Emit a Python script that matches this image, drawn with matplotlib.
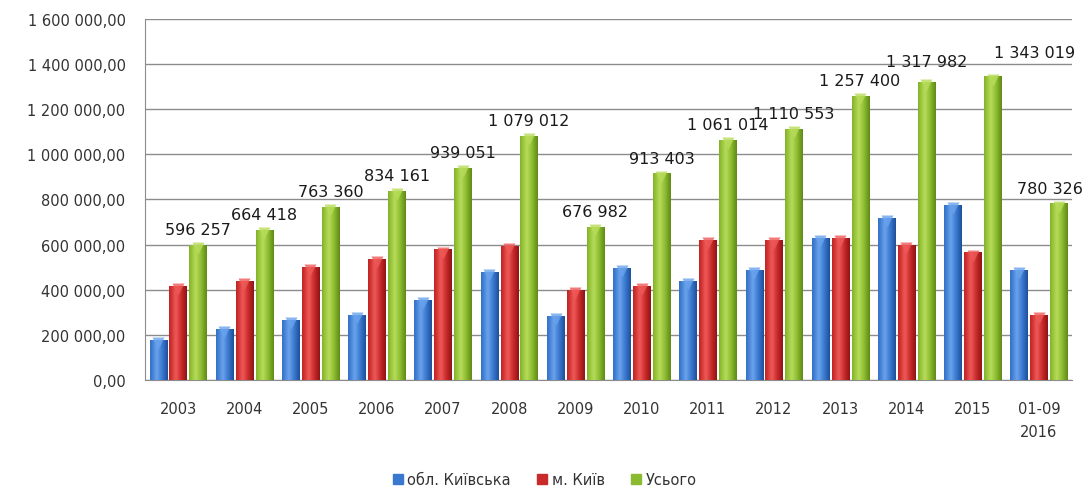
import numpy as np
import matplotlib
matplotlib.use("Agg")
import matplotlib.pyplot as plt
from matplotlib.colors import LinearSegmentedColormap
from matplotlib.ticker import FuncFormatter

plt.rcParams["font.family"] = ["DejaVu Sans"]

# дані з діаграми
years = ["2003", "2004", "2005", "2006", "2007", "2008", "2009",
         "2010", "2011", "2012", "2013", "2014", "2015", "01-09\n2016"]
oblast = [174000, 226000, 263000, 288000, 351000, 477000, 282000,
          495000, 436000, 484000, 628000, 718000, 773000, 484000]
kyiv = [415000, 436000, 500000, 536000, 577000, 593000, 396000,
        415000, 617000, 617000, 628000, 595000, 563000, 288000]
total = [596257, 664418, 763360, 834161, 939051, 1079012, 676982,
         913403, 1061014, 1110553, 1257400, 1317982, 1343019, 780326]
series_names = ["обл. Київська", "м. Київ", "Усього"]

# зсув підписів (у пунктах), щоб не налазили один на одного
label_dx = [0, 0, 0, 0, 0, 0, 0, 0, 0, 0, 0, 0, 30, -6]
label_dy = [6, 6, 6, 6, 6, 6, 6, 6, 6, 6, 6, 10, 12, 6]

# кольори: темний край, світла середина
palettes = [
    ("#1d4f9a", "#6aa3ec", "#3a78cf"),
    ("#8e1414", "#ee5a58", "#c92a2a"),
    ("#5f8a16", "#b8dc5a", "#8bbb30"),
]


def fmt_axis(v, pos):
    s = f"{v:,.2f}"
    return s.replace(",", " ").replace(".", ",")


def fmt_label(v):
    return f"{v:,.0f}".replace(",", " ")


fig = plt.figure(figsize=(10.89, 4.89), dpi=100)
ax = fig.add_axes([0.1331, 0.2209, 0.8513, 0.7382])

x = np.arange(len(years))
width = 0.26
offsets = [-0.30, 0.0, 0.30]
data = [oblast, kyiv, total]

grad = np.linspace(0, 1, 64)
grad = np.abs(grad - 0.38) / 0.62
grad = grad[np.newaxis, :]

for k, (vals, pal) in enumerate(zip(data, palettes)):
    dark, light, mid = pal
    cmap = LinearSegmentedColormap.from_list("c%d" % k, [light, mid, dark])
    bars = ax.bar(x + offsets[k], vals, width, color=mid, zorder=2,
                  label=series_names[k])
    for b in bars:
        x0 = b.get_x()
        h = b.get_height()
        ax.imshow(grad, cmap=cmap, extent=[x0, x0 + width, 0, h],
                  aspect="auto", zorder=3, interpolation="bicubic")
    ax.plot(x + offsets[k], np.array(vals) - 12000, linestyle="none",
            marker="v", markersize=9, color=light, markeredgecolor="none",
            alpha=0.8, zorder=4)

for xi, v, dx, dy in zip(x, total, label_dx, label_dy):
    ax.annotate(fmt_label(v), (xi + offsets[2], v), xytext=(dx, dy),
                textcoords="offset points", ha="center", va="bottom",
                fontsize=11.5, color="#1a1a1a", zorder=5,
                annotation_clip=False)

ax.set_xlim(-0.5, len(years) - 0.5)
ax.set_ylim(0, 1600000)
ax.set_yticks(np.arange(0, 1600001, 200000))
ax.yaxis.set_major_formatter(FuncFormatter(fmt_axis))
ax.set_xticks(x)
ax.set_xticklabels(years, linespacing=1.7)
ax.grid(axis="y", color="#8c8c8c", linewidth=1.0, zorder=0)
ax.set_axisbelow(True)

for side in ["top", "right"]:
    ax.spines[side].set_visible(False)
ax.spines["left"].set_color("#8c8c8c")
ax.spines["bottom"].set_color("#8c8c8c")
ax.tick_params(axis="both", length=0, colors="#333333")
ax.tick_params(axis="y", labelsize=10.5, pad=14)
ax.tick_params(axis="x", labelsize=10.5, pad=15)

handles = [plt.Rectangle((0, 0), 1, 1, color=p[2]) for p in palettes]
fig.legend(handles, series_names, loc="lower center", ncol=3,
           bbox_to_anchor=(0.5, -0.025), frameon=False, fontsize=10.5,
           handlelength=0.7, handleheight=0.7, handletextpad=0.3,
           columnspacing=1.8, labelcolor="#333333")

fig.savefig("out.png", dpi=100)
